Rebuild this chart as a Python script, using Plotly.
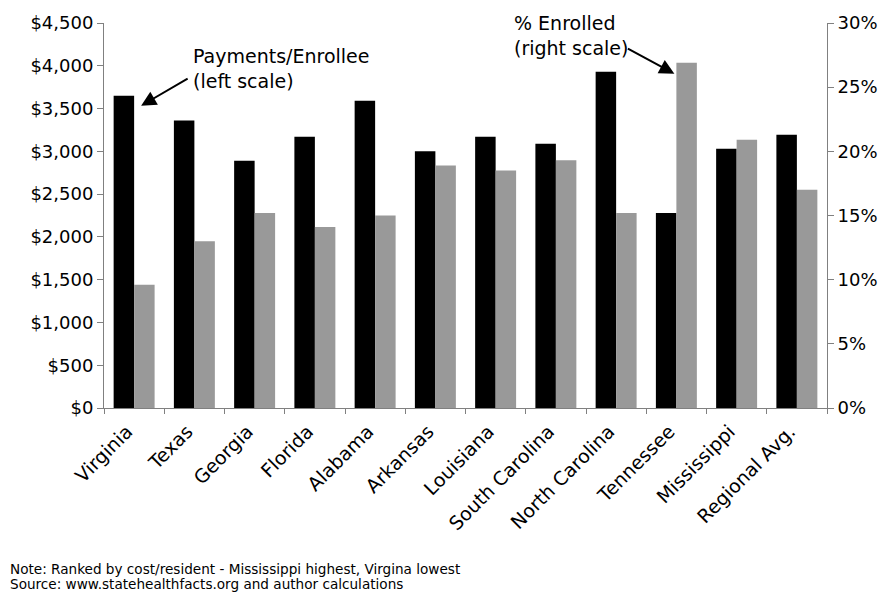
import plotly.graph_objects as go

states = ["Virginia", "Texas", "Georgia", "Florida", "Alabama", "Arkansas",
          "Louisiana", "South Carolina", "North Carolina", "Tennessee",
          "Mississippi", "Regional Avg."]
payments = [3650, 3360, 2890, 3170, 3590, 3000, 3170, 3090, 3930, 2280, 3030, 3195]
enrolled = [9.6, 13.0, 15.2, 14.1, 15.0, 18.9, 18.5, 19.3, 15.2, 26.9, 20.9, 17.0]

left_ticks = list(range(0, 4501, 500))
left_labels = ["$0" if v == 0 else "${:,}".format(v) for v in left_ticks]
right_ticks = [0, 5, 10, 15, 20, 25, 30]
right_labels = [f"{v}%" for v in right_ticks]

note_lines = ["Note: Ranked by cost/resident - Mississippi highest, Virgina lowest",
              "Source: www.statehealthfacts.org and author calculations"]

font = "DejaVu Sans, Verdana, sans-serif"
axis_col = "#808080"

fig = go.Figure()
fig.add_trace(go.Bar(x=states, y=payments, marker=dict(color="black", line=dict(width=0)),
                     offsetgroup="a", yaxis="y", name="Payments/Enrollee"))
fig.add_trace(go.Bar(x=states, y=enrolled, marker=dict(color="#999999", line=dict(width=0)),
                     offsetgroup="b", yaxis="y2", name="% Enrolled"))

fig.update_layout(
    width=890, height=592,
    margin=dict(l=104, r=61, t=22, b=184),
    paper_bgcolor="white", plot_bgcolor="white",
    showlegend=False,
    barmode="group", bargap=0.32, bargroupgap=0,
    font=dict(family=font, size=18, color="black"),
    xaxis=dict(showline=True, linecolor=axis_col, linewidth=1, ticks="outside",
               tickcolor=axis_col, ticklen=5, tickson="boundaries", tickangle=-45,
               ticklabelshift=-7, ticklabelstandoff=4,
               tickfont=dict(size=19), showgrid=False),
    yaxis=dict(range=[0, 4500], tickvals=left_ticks, ticktext=left_labels,
               showline=True, linecolor=axis_col, linewidth=1, ticks="outside",
               tickcolor=axis_col, ticklen=6, showgrid=False, zeroline=False,
               tickfont=dict(size=18)),
    yaxis2=dict(range=[0, 30], tickvals=right_ticks, ticktext=right_labels,
                overlaying="y", side="right", showline=True, linecolor=axis_col,
                linewidth=1, ticks="outside", tickcolor=axis_col, ticklen=6,
                showgrid=False, zeroline=False, tickfont=dict(size=18)),
)

# arrow for Payments/Enrollee pointing to Virginia black bar
fig.add_annotation(x=0, y=3650, xref="x", yref="y", xshift=7, yshift=-10,
                   ax=48, ay=-28, text="", showarrow=True, arrowhead=2,
                   arrowsize=1.5, arrowwidth=2, arrowcolor="black")
fig.add_annotation(xref="paper", yref="paper", x=(191 - 104) / 725, y=(408 - 42) / 386,
                   xanchor="left", yanchor="top", showarrow=False, align="left",
                   text="Payments/Enrollee<br>(left scale)",
                   font=dict(family=font, size=19, color="black"))
# arrow for % Enrolled pointing to Tennessee gray bar
fig.add_annotation(x=9, y=26.9, xref="x", yref="y2", xshift=-2, yshift=-11,
                   ax=-48, ay=-26, text="", showarrow=True, arrowhead=2,
                   arrowsize=1.5, arrowwidth=2, arrowcolor="black")
fig.add_annotation(xref="paper", yref="paper", x=(513 - 104) / 725, y=(408 - 9) / 386,
                   xanchor="left", yanchor="top", showarrow=False, align="left",
                   text="% Enrolled<br>(right scale)",
                   font=dict(family=font, size=19, color="black"))

for line, ypix in zip(note_lines, [569, 584]):
    fig.add_annotation(xref="paper", yref="paper", x=(8 - 104) / 725, y=-(ypix - 408) / 386,
                       xanchor="left", yanchor="middle", showarrow=False, align="left",
                       text=line, font=dict(family=font, size=13.6, color="black"))

fig.write_html("out.html")
